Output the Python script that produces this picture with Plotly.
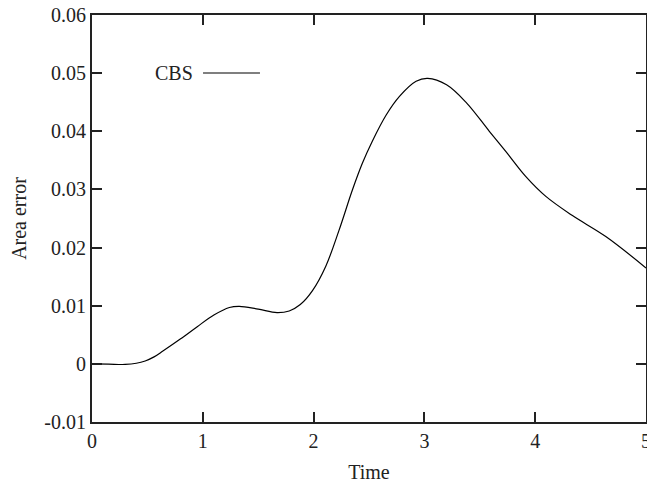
import plotly.graph_objects as go

time = [0, 0.15, 0.3, 0.4, 0.48, 0.56, 0.64, 0.8, 0.95, 1.1, 1.24, 1.33, 1.5, 1.67, 1.78,
        1.88, 1.99, 2.11, 2.23, 2.35, 2.44, 2.53, 2.655, 2.775, 2.925, 3.03, 3.2, 3.38,
        3.586, 3.736, 3.916, 4.096, 4.336, 4.637, 5.0]
area_error = [0.0, -0.00005, -0.0001, 0.0001, 0.0005, 0.0012, 0.0022, 0.0043, 0.0064,
              0.0084, 0.0097, 0.0099, 0.0094, 0.0088, 0.0091, 0.0102, 0.0126, 0.0168,
              0.0230, 0.0299, 0.0345, 0.0383, 0.0428, 0.0460, 0.0486, 0.0491, 0.0480,
              0.0449, 0.0400, 0.0365, 0.0322, 0.0288, 0.0255, 0.0219, 0.0165]
x_ticks = [0, 1, 2, 3, 4, 5]
y_ticks = [-0.01, 0, 0.01, 0.02, 0.03, 0.04, 0.05, 0.06]
y_tick_labels = ["-0.01", "0", "0.01", "0.02", "0.03", "0.04", "0.05", "0.06"]

FONT = "Liberation Serif, Times New Roman, serif"

fig = go.Figure()
fig.add_trace(go.Scatter(x=time, y=area_error, mode="lines", name="CBS",
                         line=dict(color="black", width=1.2, shape="spline", smoothing=1.0),
                         showlegend=False))

axis_common = dict(showgrid=False, zeroline=False, showline=True, linecolor="#222",
                   linewidth=2, mirror="allticks", ticks="inside", ticklen=10,
                   tickwidth=2, tickcolor="#222", ticklabeloverflow="allow",
                   automargin=False,
                   tickfont=dict(family=FONT, size=20, color="#222"))

fig.update_xaxes(range=[0, 5], tickvals=x_ticks, ticktext=[str(v) for v in x_ticks],
                 title=dict(text="Time", font=dict(family=FONT, size=20, color="#222"), standoff=14),
                 **axis_common)
fig.update_yaxes(range=[-0.01, 0.06], tickvals=y_ticks, ticktext=y_tick_labels,
                 title=dict(text="Area error", font=dict(family=FONT, size=20, color="#222"), standoff=12),
                 **axis_common)

# gnuplot-style key: label then line sample
fig.add_annotation(x=0.186, y=0.8575, xref="paper", yref="paper", text="CBS",
                   showarrow=False, xanchor="right", yanchor="middle",
                   font=dict(family=FONT, size=20, color="#222"))
fig.add_shape(type="line", xref="paper", yref="paper", x0=0.2004, x1=0.3032,
              y0=0.8575, y1=0.8575, line=dict(color="black", width=1.2))

fig.update_layout(width=647, height=486, plot_bgcolor="white", paper_bgcolor="white",
                  margin=dict(l=92, r=1, t=15, b=64, autoexpand=False), showlegend=False)

fig.write_html("out.html")
